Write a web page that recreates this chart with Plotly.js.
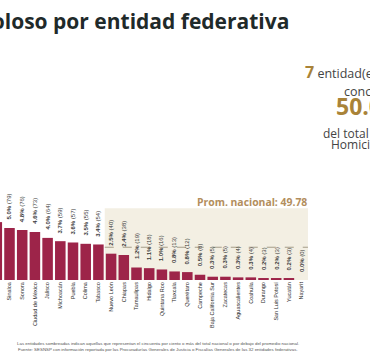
<!DOCTYPE html>
<html><head><meta charset="utf-8">
<script src="https://cdn.plot.ly/plotly-3.0.1.min.js"></script>
<style>html,body{margin:0;padding:0;background:#fff}#chart{width:370px;height:355px}</style>
</head><body><div id="chart"></div>
<script>
const states = ["Guerrero","Sinaloa","Sonora","Ciudad de México","Jalisco","Michoacán","Puebla","Colima","Tabasco","Nuevo León","Chiapas","Tamaulipas","Hidalgo","Quintana Roo","Tlaxcala","Querétaro","Campeche","Baja California Sur","Zacatecas","Aguascalientes","Coahuila","Durango","San Luis Potosí","Yucatán","Nayarit"];
const homicides = [88,79,76,73,64,59,57,55,54,40,38,19,18,16,13,12,8,5,5,4,4,3,3,3,0];
const percents = ["5.5","5.0","4.8","4.6","4.0","3.7","3.6","3.5","3.4","2.5","2.4","1.2","1.1","1.0","0.8","0.8","0.5","0.3","0.3","0.3","0.3","0.2","0.2","0.2","0.0"];
const nationalAvg = 49.78;
const topCount = "7";
const topShare = "50.0%";
const titleText = "Homicidio doloso por entidad federativa";

const W = 370, H = 355, B = 75;
const plotH = H - B;
const pxPerCat = 12.7;
const pxPerUnit = 0.658;
const r0 = 1 - 9.5 / pxPerCat;
const xRange = [r0, r0 + W / pxPerCat];
const yRange = [0, plotH / pxPerUnit];
const boxTop = 109;

const firstBelow = homicides.findIndex(v => v < nationalAvg);
const lastIdx = homicides.length - 1;

const gold = "#b38e5d";
const goldDark = "#a98338";

const annotations = [];
for (let i = 0; i < states.length; i++) {
  annotations.push({
    x: states[i], y: homicides[i], xref: "x", yref: "y",
    text: "<b>" + percents[i] + "%</b> (" + homicides[i] + ")",
    textangle: -90, showarrow: false, yanchor: "bottom", xanchor: "center", yshift: 6,
    font: {family: "Liberation Sans, Arial, sans-serif", size: 6, color: "#3a3a3a"}
  });
}
annotations.push({
  x: (firstBelow + lastIdx) / 2 + 3.63, y: boxTop, xref: "x", yref: "y",
  text: "<b>Prom. nacional: " + nationalAvg + "</b>", showarrow: false,
  yanchor: "bottom", xanchor: "center", yshift: -3,
  font: {family: "Open Sans, sans-serif", size: 10.4, color: gold}
});
annotations.push({
  x: 291 / W, y: 1 - 5 / plotH, xref: "paper", yref: "paper",
  text: "<b>" + titleText + "</b>", showarrow: false, xanchor: "right", yanchor: "top",
  font: {family: "Open Sans, sans-serif", size: 21, color: "#1f2a2a"}
});
const side = [
  {x: 303, y: 72, t: "<span style='font-size:16px;color:" + goldDark + "'><b>" + topCount + "</b></span> entidad(es)", s: 12.5},
  {x: 342, y: 92, t: "concentran el", s: 12.5},
  {x: 334, y: 106, t: "<b>" + topShare + "</b>", s: 23, c: goldDark},
  {x: 321, y: 133, t: "del total de", s: 12},
  {x: 329, y: 144, t: "Homicidios", s: 12}
];
side.forEach(o => annotations.push({
  x: o.x / W, y: 1 - o.y / plotH, xref: "paper", yref: "paper", text: o.t,
  showarrow: false, xanchor: "left", yanchor: "middle",
  font: {family: "Open Sans, sans-serif", size: o.s, color: o.c || "#444"}
}));
const notes = [
  "Las entidades sombreadas indican aquellas que representan el cincuenta por ciento o más del total nacional o por debajo del promedio nacional.",
  "Fuente: SESNSP con información reportada por las Procuradurías Generales de Justicia o Fiscalías Generales de las 32 entidades federativas."
];
notes.forEach((t, k) => annotations.push({
  x: 158 / W, y: 1 - (343 + 6 * k) / plotH, xref: "paper", yref: "paper", text: t,
  showarrow: false, xanchor: "center", yanchor: "middle",
  font: {family: "Liberation Sans, Arial, sans-serif", size: 4.4, color: "#555"}
}));

const data = [{
  type: "bar", x: states, y: homicides,
  marker: {color: "#9d2449"}, hoverinfo: "none"
}];

const layout = {
  width: W, height: H,
  margin: {l: 0, r: 0, t: 0, b: B, pad: 0},
  paper_bgcolor: "#ffffff", plot_bgcolor: "rgba(0,0,0,0)",
  showlegend: false, bargap: 0.17,
  xaxis: {type: "category", range: xRange, tickangle: -90, showgrid: false, zeroline: false,
    showline: false, ticks: "", fixedrange: true,
    tickfont: {family: "Liberation Sans, Arial, sans-serif", size: 5.5, color: "#2a2a2a"}},
  yaxis: {range: yRange, visible: false, showgrid: false, zeroline: false, fixedrange: true},
  shapes: [
    {type: "rect", xref: "x", yref: "y", x0: firstBelow - 0.5, x1: lastIdx + 0.5, y0: 0, y1: boxTop,
     fillcolor: "#f3efe3", line: {width: 0}, layer: "below"},
    {type: "line", xref: "x", yref: "y", x0: firstBelow - 0.5, x1: lastIdx + 0.5, y0: nationalAvg, y1: nationalAvg,
     line: {color: "#a49c88", width: 1, dash: "dash"}, layer: "below"}
  ],
  annotations: annotations
};

Plotly.newPlot("chart", data, layout, {displayModeBar: false, staticPlot: true});
</script></body></html>
